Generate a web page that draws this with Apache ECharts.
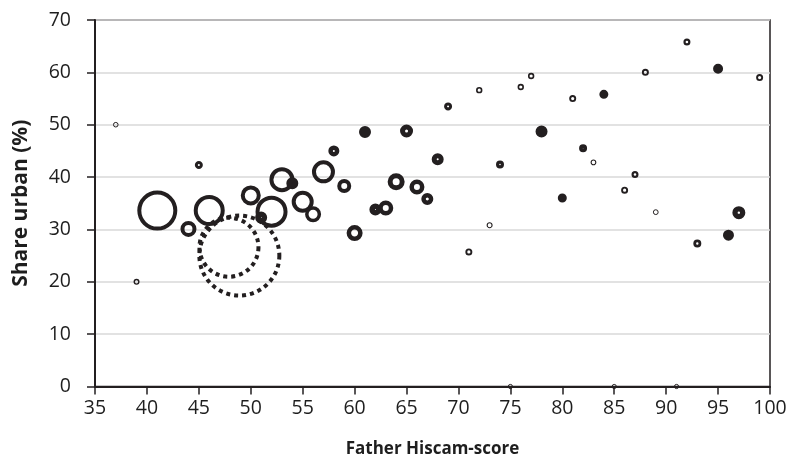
<!DOCTYPE html>
<html><head><meta charset="utf-8">
<script src="https://cdn.jsdelivr.net/npm/echarts@6/dist/echarts.min.js"></script>
<style>html,body{margin:0;padding:0;background:#fff}#c{width:793px;height:471px}</style>
</head><body><div id="c"></div>
<script>
// Father Hiscam-score (x) and share urban % (y)
const hiscam = [37,39,41,44,45,46,50,51,52,53,54,55,56,57,58,59,60,61,62,63,64,65,66,67,68,69,71,72,73,74,75,76,77,78,80,81,82,83,84,85,86,87,88,89,91,92,93,95,96,97,99];
const urban  = [50,20,33.6,30.1,42.3,33.6,36.5,32.3,33.4,39.5,38.8,35.3,32.9,41.0,45.0,38.3,29.3,48.6,33.8,34.1,39.1,48.8,38.1,35.8,43.4,53.5,25.7,56.6,30.8,42.4,0,57.2,59.3,48.7,36.0,55.0,45.5,42.8,55.8,0,37.5,40.5,60.0,33.3,0,65.8,27.3,60.7,28.9,33.2,59.0];
// bubble magnitude (outer) and hollow share (inner) of each bubble
const bubbleSize = [2.8,3,20,8,4,15.5,10,6,16,12.5,6,11,8,11.5,5.5,7,8,6,6,7.5,8.5,6.5,7.5,6,6,4,3.5,3.2,3,4,2.6,3.2,3.2,6,4.5,3.5,4,2.9,4.5,2.6,3.5,3.5,3.5,2.9,2.6,3.5,4,5,5.5,6.5,3.5];
const hollowSize = [1.8,1.6,16,4,1,11.5,6,0.5,12,8.5,0.5,7,4.5,7.5,1,3,3.5,0,0.5,3,3.5,1.5,3,1.5,1,1,1.6,1.6,1.9,0.8,1.6,1.6,1.6,0,0,1.6,0.3,1.8,0,1.6,1.6,1.3,1.6,1.9,1.6,1.3,1.2,0,0,1.2,1.6];
// reference (dashed) bubbles
const refHiscam = [47.9, 48.9];
const refUrban = [26.6, 25.0];
const refSize = [31.5, 42];

const xTicks = [35,40,45,50,55,60,65,70,75,80,85,90,95,100];
const yTicks = [0,10,20,30,40,50,60,70];

const ink = '#231f20';
const mainData = hiscam.map((x, i) => ({
  value: [x, urban[i], bubbleSize[i], hollowSize[i]],
  itemStyle: { borderWidth: bubbleSize[i] - hollowSize[i] }
}));
const refData = refHiscam.map((x, i) => [x, refUrban[i], refSize[i]]);

const font = 'Open Sans';
const txt = '#1e1e1e';
const chart = echarts.init(document.getElementById('c'), null, {renderer: 'canvas'});
chart.setOption({
  animation: false,
  grid: { left: 95, right: 23, top: 20, bottom: 84.5, show: true, borderColor: ink, borderWidth: 1.5, backgroundColor: 'transparent' },
  xAxis: {
    type: 'value', min: xTicks[0], max: xTicks[xTicks.length-1], interval: 5,
    name: 'Father Hiscam-score', nameLocation: 'middle', nameGap: 54,
    nameTextStyle: { fontFamily: font, fontSize: 17, fontWeight: 'bold', color: txt },
    axisLine: { show: true, lineStyle: { color: ink, width: 2 } },
    axisTick: { show: true, inside: false, length: 8, lineStyle: { color: ink, width: 1.5 } },
    axisLabel: { fontFamily: font, fontSize: 19.5, color: txt, margin: 12 },
    splitLine: { show: false }
  },
  yAxis: {
    type: 'value', min: yTicks[0], max: yTicks[yTicks.length-1], interval: 10,
    name: 'Share urban (%)', nameLocation: 'middle', nameGap: 63, nameRotate: 90,
    nameTextStyle: { fontFamily: font, fontSize: 21, fontWeight: 'bold', color: txt },
    axisLine: { show: true, lineStyle: { color: ink, width: 2 } },
    axisTick: { show: true, inside: false, length: 8, lineStyle: { color: ink, width: 1.5 } },
    axisLabel: { fontFamily: font, fontSize: 19.5, color: txt, margin: 24 },
    splitLine: { show: true, lineStyle: { color: '#d9d9d9', width: 1.5 } }
  },
  series: [
    {
      type: 'scatter', data: refData, z: 2,
      symbol: 'circle',
      symbolSize: d => d[2] * 2 - 4,
      itemStyle: { color: 'rgba(0,0,0,0)', opacity: 1, borderColor: ink, borderWidth: 4, borderType: [4, 4] },
      emphasis: { disabled: true }
    },
    {
      type: 'scatter', data: mainData, z: 3,
      symbol: 'circle',
      symbolSize: d => d[2] + d[3],
      itemStyle: { color: 'rgba(0,0,0,0)', opacity: 1, borderColor: ink },
      emphasis: { disabled: true }
    }
  ]
});
</script></body></html>
